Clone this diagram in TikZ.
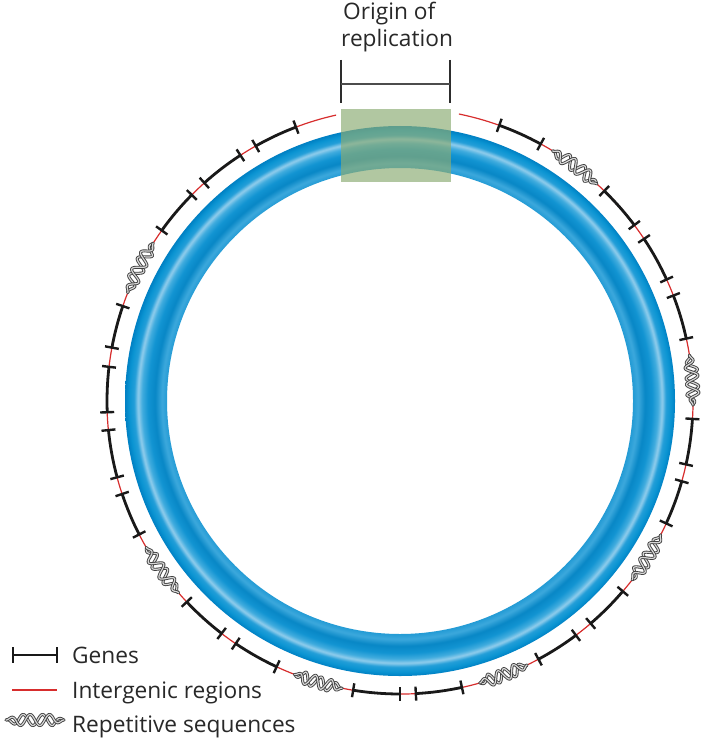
\documentclass[tikz,border=0pt]{standalone}
\usepackage{fontspec}
\setmainfont{Open Sans}
\definecolor{ringIn}{RGB}{35,155,213}
\definecolor{ringL1}{RGB}{60,168,220}
\definecolor{ringD}{RGB}{8,135,198}
\definecolor{ringM}{RGB}{18,148,210}
\definecolor{ringL2}{RGB}{65,172,222}
\definecolor{ringHi}{RGB}{145,205,236}
\definecolor{ringM2}{RGB}{35,158,216}
\definecolor{ringM3}{RGB}{10,148,210}
\definecolor{ringOut}{RGB}{0,128,195}
\definecolor{boxgreen}{RGB}{140,172,115}
\definecolor{igred}{RGB}{215,45,45}
\definecolor{hxdark}{RGB}{65,65,65}
\definecolor{hxlight}{RGB}{215,215,215}
\definecolor{txt}{RGB}{40,40,40}
\definecolor{brk}{RGB}{45,45,45}
\pgfdeclareradialshading{ringshade}{\pgfpoint{0bp}{0bp}}{%
 color(0bp)=(ringIn); color(21.18bp)=(ringIn); color(21.64bp)=(ringL1);
 color(22.27bp)=(ringD); color(22.91bp)=(ringM); color(23.45bp)=(ringL2);
 color(23.82bp)=(ringHi); color(24.18bp)=(ringM2); color(24.64bp)=(ringM3);
 color(25bp)=(ringOut); color(50bp)=(ringOut)}
\newcommand{\dnastrand}[4]{%
 \draw[#4] plot[domain=#1:#2, samples=100, smooth]
  (\x:{293+6*min(1,5*(\x-(#1))/((#2)-(#1)),5*((#2)-\x)/((#2)-(#1)))*sin((\x-(#1))/((#2)-(#1))*1080+#3)});}
\newcommand{\dnahelix}[2]{%
 \draw[white, line width=3pt] (#1:293) arc[start angle=#1, end angle=#2, radius=293];
 \dnastrand{#1}{#2}{130}{helixout}\dnastrand{#1}{#2}{130}{helixin}%
 \dnastrand{#1}{#2}{0}{helixout}\dnastrand{#1}{#2}{0}{helixin}}
\newcommand{\legstrand}[2]{%
 \draw[#2] plot[domain=6:64, samples=100, smooth]
  (\x,{-720+5.5*min(1,(\x-6)/11,(64-\x)/11)*sin((\x-6)/58*1080+#1)});}
\begin{document}
\begin{tikzpicture}[x=1pt,y=1pt,
  gene/.style={line width=2.8pt, color=black!90},
  genetick/.style={line width=2.4pt, color=black!90},
  intergenic/.style={line width=1.2pt, color=igred},
  helixout/.style={line width=3pt, color=hxdark, line cap=round},
  helixin/.style={line width=1.2pt, color=hxlight, line cap=round},
  lbl/.style={font=\fontsize{22.7}{27}\selectfont, text=txt, inner sep=0pt, anchor=base west}]
\fill[white] (0,0) rectangle (717,-741);
\path[use as bounding box] (0,0) rectangle (717,-741);
\coordinate (c) at (400,-401);
% chromosome ring
\shade[shading=ringshade, even odd rule] (c) circle[radius=275] (c) circle[radius=233];
% origin of replication
\fill[boxgreen, opacity=0.67] (341,-109) rectangle (451,-182);
\coordinate (bl1) at (341,-60); \coordinate (bl2) at (341,-103);
\coordinate (br1) at (450,-60); \coordinate (br2) at (450,-103);
\coordinate (bml) at (341,-84); \coordinate (bmr) at (450,-84);
\draw[line width=1.8pt, brk] (bl1) -- (bl2);
\draw[line width=1.8pt, brk] (br1) -- (br2);
\draw[line width=1.2pt, brk!85] (bml) -- (bmr);
\node[lbl] (orig1) at (343,-20) {Origin of};
\node[lbl] (orig2) at (341,-47) {replication};
% track
\begin{scope}[shift={(c)}]
 \draw[intergenic] (78.4:293) arc[start angle=78.4, end angle=-257.4, radius=293];
 \foreach \a/\b in {70.2/61.3, 45.8/36.9, 33.6/24.5, 21.1/12.3, -3.5/-12.5,
   -15.9/-24.7, -40.5/-49.4, -53.1/-61.8, -77.8/-86.9, -90/-99.2,
   245.1/235.9, 232.5/223.3, 207.1/198.5, 195.1/185.7, 182.2/173.3,
   169.5/161.1, 144.4/135.3, 131.9/123.0, 119.5/110.8}{
   \draw[gene] (\a:293) arc[start angle=\a, end angle=\b, radius=293];
   \draw[genetick] (\a:286) -- (\a:300);
   \draw[genetick] (\b:286) -- (\b:300);
 }
 \dnahelix{58.6}{47.8}
 \dnahelix{9.0}{-0.8}
 \dnahelix{-27.2}{-37.6}
 \dnahelix{-64.3}{-74.2}
 \dnahelix{258.6}{248.9}
 \dnahelix{220.9}{210.0}
 \dnahelix{158.3}{147.4}
\end{scope}
% legend
\coordinate (lg1) at (12,-655); \coordinate (lg2) at (58,-655);
\draw[gene] (lg1) -- (lg2);
\draw[genetick] (13.2,-647) -- (13.2,-663);
\draw[genetick] (56.8,-647) -- (56.8,-663);
\coordinate (li1) at (12,-690); \coordinate (li2) at (57,-690);
\draw[intergenic] (li1) -- (li2);
\legstrand{130}{helixout}\legstrand{130}{helixin}
\legstrand{0}{helixout}\legstrand{0}{helixin}
\node[lbl] (lgene) at (72,-663) {Genes};
\node[lbl] (linter) at (72,-698) {Intergenic regions};
\node[lbl] (lrep) at (72,-732) {Repetitive sequences};
\end{tikzpicture}
\end{document}
